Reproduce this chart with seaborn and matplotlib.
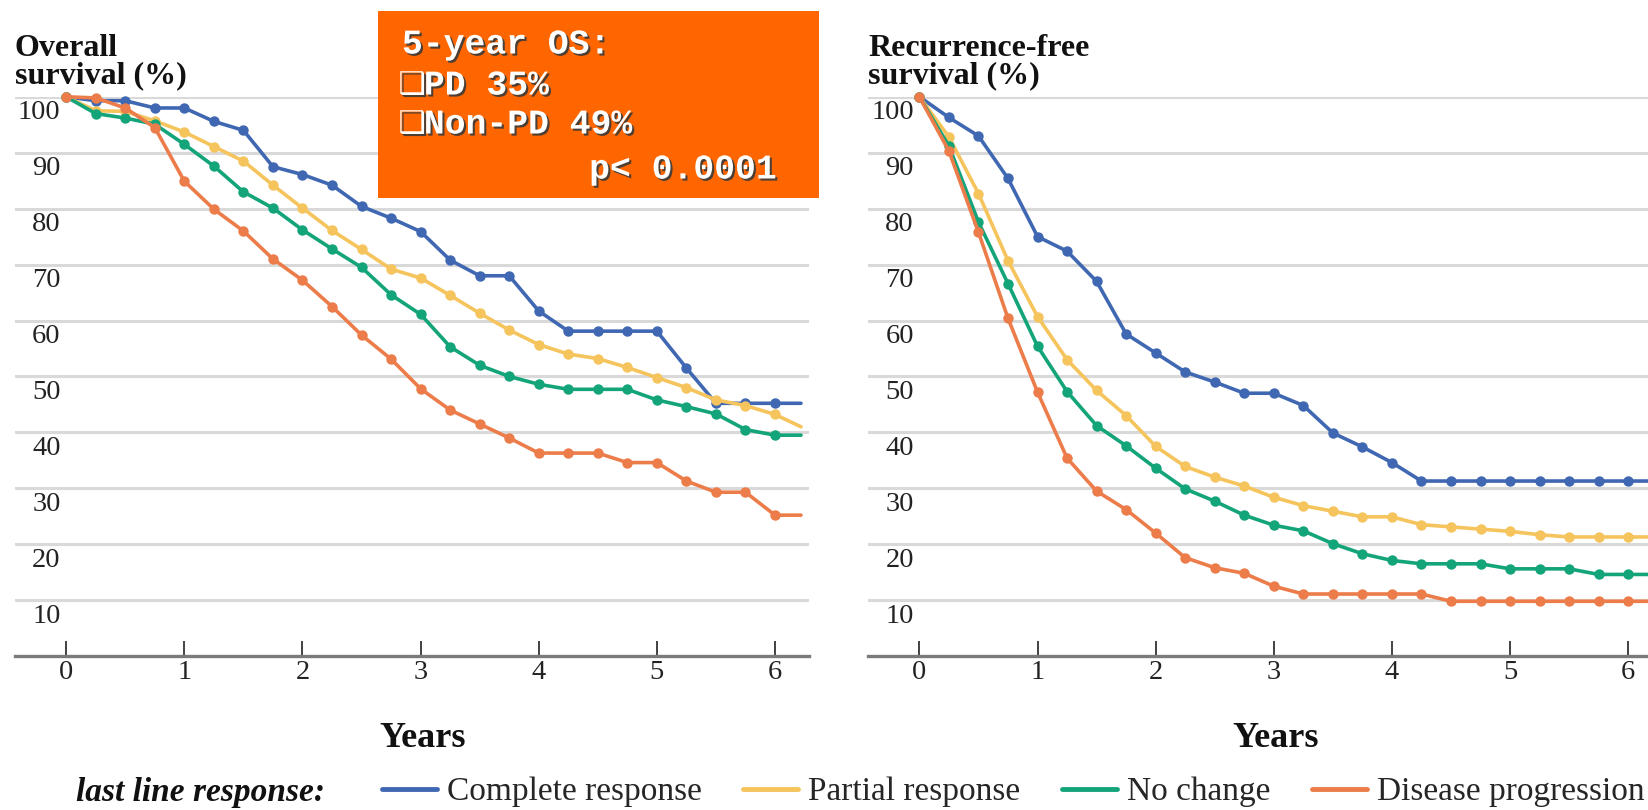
import pandas as pd
import matplotlib
matplotlib.use('Agg')
import matplotlib.pyplot as plt
import matplotlib.patheffects as pe
from matplotlib.transforms import ScaledTranslation
from matplotlib.lines import Line2D
from matplotlib.patches import Rectangle
import seaborn as sns

# quarterly follow-up points (last value = where the lines stop)
years = [0, 0.25, 0.5, 0.75, 1, 1.25, 1.5, 1.75, 2, 2.25, 2.5, 2.75, 3,
         3.25, 3.5, 3.75, 4, 4.25, 4.5, 4.75, 5, 5.25, 5.5, 5.75, 6, 6.22]

groups = ['Complete response', 'Partial response', 'No change', 'Disease progression']
colors = ['#4068B2', '#F5C45C', '#14A47A', '#EC7D4A']

# overall survival (%)
os_complete = [100, 99.3, 99.3, 98.0, 98.0, 95.6, 94.0, 87.5, 86.1, 84.2, 80.4, 78.3, 75.9,
               70.8, 68.0, 68.0, 61.7, 58.1, 58.1, 58.1, 58.1, 51.5, 45.2, 45.2, 45.2, 45.2]
os_partial = [100, 97.5, 97.4, 95.7, 93.7, 91.1, 88.5, 84.2, 80.1, 76.1, 72.7, 69.2, 67.6,
              64.5, 61.3, 58.3, 55.7, 54.0, 53.2, 51.6, 49.8, 48.0, 45.8, 44.8, 43.2, 41.0]
os_nochange = [100, 97.0, 96.2, 95.1, 91.5, 87.6, 83.0, 80.1, 76.2, 72.8, 69.5, 64.6, 61.1,
               55.3, 52.0, 50.0, 48.6, 47.7, 47.7, 47.7, 45.8, 44.6, 43.3, 40.5, 39.5, 39.5]
os_pd = [100, 99.8, 98.0, 94.5, 84.9, 79.9, 76.0, 71.0, 67.2, 62.5, 57.4, 53.1, 47.8,
         44.0, 41.5, 39.0, 36.3, 36.3, 36.3, 34.6, 34.6, 31.3, 29.3, 29.3, 25.2, 25.2]

# recurrence-free survival (%)
rfs_complete = [100, 96.3, 93.0, 85.4, 75.0, 72.4, 67.0, 57.6, 54.2, 50.8, 49.0, 47.0, 47.0,
                44.8, 39.9, 37.4, 34.6, 31.3, 31.3, 31.3, 31.3, 31.3, 31.3, 31.3, 31.3, 31.3]
rfs_partial = [100, 92.8, 82.7, 70.7, 60.7, 53.0, 47.5, 43.0, 37.5, 33.9, 32.0, 30.4, 28.4,
               26.9, 25.9, 24.9, 24.9, 23.5, 23.1, 22.7, 22.3, 21.7, 21.3, 21.3, 21.3, 21.3]
rfs_nochange = [100, 91.2, 77.6, 66.6, 55.4, 47.3, 41.2, 37.6, 33.6, 29.9, 27.7, 25.2, 23.4,
                22.4, 20.1, 18.3, 17.1, 16.5, 16.5, 16.5, 15.6, 15.6, 15.6, 14.6, 14.6, 14.6]
rfs_pd = [100, 90.3, 75.8, 60.4, 47.2, 35.4, 29.5, 26.2, 22.0, 17.6, 15.8, 14.8, 12.5,
          11.1, 11.1, 11.1, 11.1, 11.1, 9.8, 9.8, 9.8, 9.8, 9.8, 9.8, 9.8, 9.8]

yticks = [100, 90, 80, 70, 60, 50, 40, 30, 20, 10]
xticks = [0, 1, 2, 3, 4, 5, 6]


def to_long(series_list):
    frames = []
    for name, vals in zip(groups, series_list):
        frames.append(pd.DataFrame({'year': years, 'value': vals, 'group': name}))
    return pd.concat(frames, ignore_index=True)


os_df = to_long([os_complete, os_partial, os_nochange, os_pd])
rfs_df = to_long([rfs_complete, rfs_partial, rfs_nochange, rfs_pd])

sns.set_style("white")
plt.rcParams['font.family'] = ['Liberation Serif', 'DejaVu Serif']

fig = plt.figure(figsize=(16.48, 8.10), dpi=100)
ax1 = fig.add_axes([0.009, 0.19, 0.4817, 0.6905])
ax2 = fig.add_axes([0.5267, 0.19, 0.4817, 0.6905])

panels = [(ax1, os_df, 'Overall\nsurvival (%)'),
          (ax2, rfs_df, 'Recurrence-free\nsurvival (%)')]

for ax, df, title in panels:
    sns.lineplot(data=df, x='year', y='value', hue='group', hue_order=groups,
                 palette=colors, marker='o', markersize=7.5, markeredgewidth=0,
                 linewidth=2.6, legend=False, ax=ax, zorder=3)
    for ln in ax.lines:
        ln.set_markevery(list(range(len(years) - 1)))
        ln.set_clip_on(False)
        ln.set_solid_joinstyle('round')

    ax.set_xlim(-0.435, 6.285)
    ax.set_ylim(0, 100)
    ax.set_yticks(yticks)
    ax.set_yticklabels([str(v) for v in yticks])
    ax.set_xticks(xticks)
    ax.set_xticklabels([str(v) for v in xticks])
    ax.grid(axis='y', color='#D9D9D9', linewidth=2.2)
    ax.grid(axis='x', visible=False)
    ax.set_axisbelow(True)
    for s in ['top', 'right', 'left']:
        ax.spines[s].set_visible(False)
    ax.spines['bottom'].set_color('#7A7A7A')
    ax.spines['bottom'].set_linewidth(2.4)

    ax.tick_params(axis='y', length=0, pad=-33, labelsize=20.5, labelcolor='#222222')
    ax.tick_params(axis='x', direction='in', length=11, width=1.3, color='#333333',
                   pad=3, labelsize=20.5, labelcolor='#222222', bottom=True)
    for lab in ax.get_yticklabels():
        lab.set_transform(lab.get_transform() + ScaledTranslation(0, -0.13, fig.dpi_scale_trans))

    ax.set_ylabel('')
    ax.set_xlabel('Years', fontsize=26, fontweight='bold', color='#111111')
    ax.xaxis.set_label_coords(0.514, -0.148)
    ax.xaxis.label.set_verticalalignment('center')

    ax.text(0.0, 1.012, title, transform=ax.transAxes, ha='left', va='bottom',
            fontsize=23, fontweight='bold', color='#111111', linespacing=0.92)

# legend at the bottom
fig.text(0.046, 0.022, 'last line response:', ha='left', va='center',
         fontsize=24, fontweight='bold', fontstyle='italic', color='#111111')
handles = [Line2D([], [], color=c, linewidth=3.5) for c in colors]
fig.legend(handles, groups, loc='center left', bbox_to_anchor=(0.2315, 0.022),
           ncol=4, frameon=False, fontsize=24, handlelength=1.65,
           handletextpad=0.3, columnspacing=1.25, borderpad=0, borderaxespad=0)

# orange annotation box
fig.patches.append(Rectangle((0.2294, 0.756), 0.2676, 0.231, transform=fig.transFigure,
                             facecolor='#FF6600', edgecolor='none', zorder=5))
shadow = [pe.SimplePatchShadow(offset=(1.5, -1.5), shadow_rgbFace='#3a3a3a', alpha=0.9), pe.Normal()]
mono = ['Liberation Mono', 'DejaVu Sans Mono', 'DejaVu Sans']
box_lines = [('', '5-year OS:', 0.2439, 44), ('❑', 'PD 35%', 0.2572, 85),
             ('❑', 'Non-PD 49%', 0.2572, 124), ('', 'p< 0.0001', 0.3575, 169)]
for box, txt, x, ypx in box_lines:
    if box:
        b = fig.text(0.2418, 1 - ypx / 810, box, ha='left', va='center', fontsize=22,
                     color='white', zorder=6, family=['DejaVu Sans'])
        b.set_path_effects(shadow)
    t = fig.text(x, 1 - ypx / 810, txt, ha='left', va='center', fontsize=25,
                 fontweight='bold', color='white', zorder=6, family=mono)
    t.set_path_effects(shadow)

fig.savefig('out.png', dpi=100)
